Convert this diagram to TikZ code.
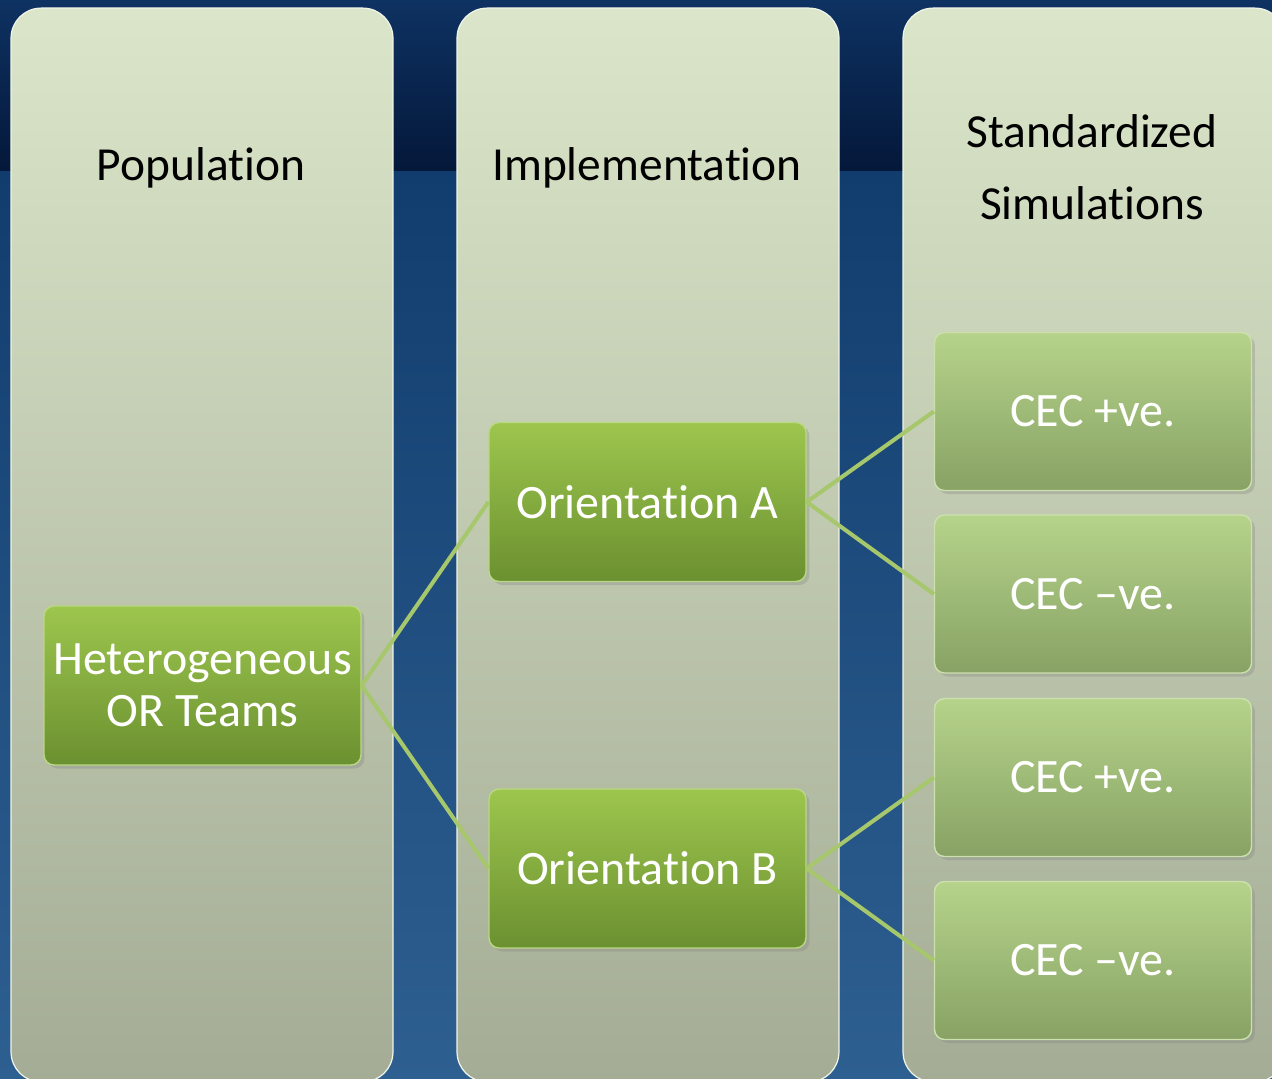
\documentclass[tikz,border=0pt]{standalone}
\usepackage{fontspec}
\setmainfont[Ligatures=NoCommon]{Carlito}
\usetikzlibrary{shadows}

\definecolor{bandtop}{HTML}{0E3262}
\definecolor{bandbot}{HTML}{04183A}
\definecolor{bgtop}{HTML}{113D6E}
\definecolor{bgbot}{HTML}{2E5F91}
\definecolor{coltop}{HTML}{DAE5C9}
\definecolor{colbot}{HTML}{A4AC95}
\definecolor{greentop}{HTML}{9DC64E}
\definecolor{greenbot}{HTML}{6B9030}
\definecolor{palegreentop}{HTML}{B6D38B}
\definecolor{palegreenbot}{HTML}{87A264}
\definecolor{linkgreen}{HTML}{A6C76C}

\tikzset{
  column/.style={rounded corners=0.6cm, top color=coltop, bottom color=colbot,
    draw=white!60!coltop, line width=0.7pt, minimum width=7.64cm, minimum height=21.48cm},
  header/.style={font=\fontsize{27}{41}\selectfont, text=black, align=center},
  stagebox/.style={rounded corners=0.2cm, top color=greentop, bottom color=greenbot,
    draw=greentop!70!white, line width=0.8pt, minimum width=6.34cm, minimum height=3.18cm,
    text=white, align=center, font=\fontsize{27.3}{29.5}\selectfont,
    drop shadow={shadow xshift=2pt, shadow yshift=-2pt, opacity=.3}},
  casebox/.style={stagebox, top color=palegreentop, bottom color=palegreenbot,
    draw=palegreentop!70!white, minimum height=3.16cm},
  link/.style={draw=linkgreen, line width=2.3pt}
}

\begin{document}
\begin{tikzpicture}[x=0.02cm,y=-0.02cm]

\useasboundingbox (0,0) rectangle (1272,1079);
\clip (0,0) rectangle (1272,1079);

% Draw the background
\shade[top color=bgtop, bottom color=bgbot] (0,170) rectangle (1272,1079);
\shade[top color=bandtop, bottom color=bandbot] (0,0) rectangle (1272,170);

% Draw the columns
\node[column] (popcol) at (202,545) {};
\node[column] (implcol) at (648,545) {};
\node[column] (simcol) at (1094,545) {};

\node[header] (poplabel) at (201,168) {Population};
\node[header] (impllabel) at (647,168) {Implementation};
\node[header] (simlabel) at (1092,167) {Standardized\\Simulations};

% Draw the boxes
\node[stagebox] (teams) at (202.5,685.5) {Heterogeneous\\OR Teams};
\node[stagebox] (orientA) at (647.5,502) {Orientation A};
\node[stagebox] (orientB) at (647.5,868.5) {Orientation B};

\node[casebox] (posA) at (1093,411.5) {CEC +ve.};
\node[casebox] (negA) at (1093,594) {CEC --ve.};
\node[casebox] (posB) at (1093,777.5) {CEC +ve.};
\node[casebox] (negB) at (1093,960.5) {CEC --ve.};

% Draw the links
\draw[link] (teams.east) -- (orientA.west);
\draw[link] (teams.east) -- (orientB.west);
\draw[link] (orientA.east) -- (posA.west);
\draw[link] (orientA.east) -- (negA.west);
\draw[link] (orientB.east) -- (posB.west);
\draw[link] (orientB.east) -- (negB.west);

\end{tikzpicture}
\end{document}
